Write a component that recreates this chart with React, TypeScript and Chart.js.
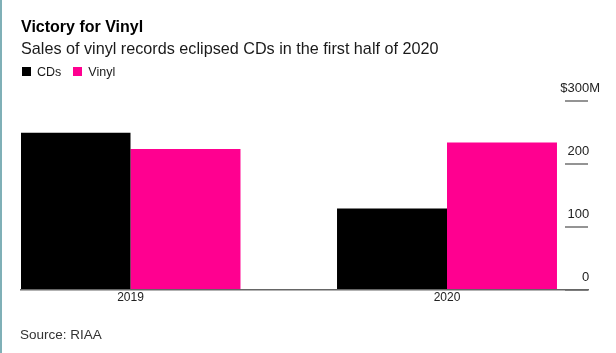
import React, { useEffect, useRef } from "react";
import { Chart, registerables } from "chart.js";

Chart.register(...registerables);

// ---- data ----
const years = [2019, 2020];
const cdSales = [249.5, 129.5];
const vinylSales = [224, 234];
const seriesNames = ["CDs", "Vinyl"];
const seriesColors = ["#000000", "#ff0090"];
const yTickValues = [0, 100, 200, 300];
const yTickLabels = ["0", "100", "200", "$300M"];
const titleText = "Victory for Vinyl";
const subtitleText = "Sales of vinyl records eclipsed CDs in the first half of 2020";
const sourceText = "Source: RIAA";

const FONT = '"Liberation Sans", Arial, Helvetica, sans-serif';

const tickMarks = {
  id: "tickMarks",
  afterDatasetsDraw(chart: any) {
    const y = chart.scales.y;
    const { right } = chart.chartArea;
    const ctx = chart.ctx;
    ctx.save();
    ctx.strokeStyle = "#666666";
    ctx.lineWidth = 1.4;
    y.ticks.forEach((t: any) => {
      const py = y.getPixelForValue(t.value);
      ctx.beginPath();
      ctx.moveTo(right - 23, py);
      ctx.lineTo(right, py);
      ctx.stroke();
    });
    ctx.restore();
  },
};

export default function App() {
  const canvasRef = useRef<HTMLCanvasElement | null>(null);

  useEffect(() => {
    const canvas = canvasRef.current;
    if (!canvas) return;
    const series = [cdSales, vinylSales];
    const chart = new Chart(canvas, {
      type: "bar",
      data: {
        datasets: series.map((vals, s) => ({
          label: seriesNames[s],
          data: years.map((yr, i) => ({ x: yr, y: vals[i] })),
          backgroundColor: seriesColors[s],
          borderWidth: 0,
          categoryPercentage: 0.695,
          barPercentage: 1,
        })),
      },
      options: {
        responsive: false,
        animation: false,
        events: [],
        layout: { padding: { left: 21, right: 4, top: 101, bottom: 47.6 } },
        plugins: {
          legend: { display: false },
          title: { display: false },
          tooltip: { enabled: false },
        },
        scales: {
          x: {
            type: "linear",
            bounds: "data",
            min: 2018.654,
            max: 2020.4455,
            offset: false,
            grid: { display: false, drawTicks: false },
            border: { display: true, color: "#666666", width: 1.4, z: 1 },
            afterBuildTicks: (scale: any) => {
              scale.ticks = years.map((v) => ({ value: v }));
            },
            ticks: {
              padding: 0.5,
              color: "#222222",
              font: { family: FONT, size: 12 },
              autoSkip: false,
              maxRotation: 0,
              callback: (v: any) => String(v),
            },
          },
          y: {
            type: "linear",
            position: "right",
            min: 0,
            max: 300,
            grid: { display: false, drawTicks: false },
            border: { display: false },
            afterBuildTicks: (scale: any) => {
              scale.ticks = yTickValues.map((v) => ({ value: v }));
            },
            ticks: {
              mirror: true,
              padding: 12,
              labelOffset: -13,
              color: "#222222",
              font: { family: FONT, size: 13 },
              callback: (v: any) => {
                const lbl = yTickLabels[yTickValues.indexOf(Number(v))];
                return lbl.startsWith("$") ? lbl : lbl + "   ";
              },
            },
          },
        },
      },
      plugins: [tickMarks],
    });
    return () => chart.destroy();
  }, []);

  return (
    <div
      style={{
        position: "absolute",
        left: 0,
        top: 0,
        width: 616,
        height: 353,
        background: "#ffffff",
        overflow: "hidden",
        fontFamily: FONT,
      }}
    >
      <canvas
        ref={canvasRef}
        width={616}
        height={353}
        style={{ position: "absolute", left: 0, top: 0, width: 616, height: 353 }}
      />
      <div
        style={{ position: "absolute", left: 0, top: 0, width: 2, height: 353, background: "#7fb0b7" }}
      />
      <div
        style={{
          position: "absolute",
          left: 21,
          top: 19,
          fontSize: 16,
          lineHeight: "16px",
          fontWeight: "bold",
          color: "#000",
          whiteSpace: "nowrap",
        }}
      >
        {titleText}
      </div>
      <div
        style={{
          position: "absolute",
          left: 21,
          top: 39.8,
          fontSize: 16.2,
          lineHeight: "16.2px",
          color: "#1a1a1a",
          whiteSpace: "nowrap",
        }}
      >
        {subtitleText}
      </div>
      <div
        style={{
          position: "absolute",
          left: 22,
          top: 65.5,
          height: 12.5,
          display: "flex",
          alignItems: "center",
          fontSize: 12.5,
          lineHeight: "12.5px",
          color: "#1a1a1a",
          whiteSpace: "nowrap",
        }}
      >
        {seriesNames.map((n, i) => (
          <div key={n} style={{ display: "flex", alignItems: "center", marginRight: 12 }}>
            <span style={{ display: "inline-block", width: 9, height: 9, background: seriesColors[i], marginRight: 6 }} />
            <span>{n}</span>
          </div>
        ))}
      </div>
      <div
        style={{
          position: "absolute",
          left: 20,
          top: 328,
          fontSize: 13.5,
          lineHeight: "13.5px",
          color: "#333",
          whiteSpace: "nowrap",
        }}
      >
        {sourceText}
      </div>
    </div>
  );
}
